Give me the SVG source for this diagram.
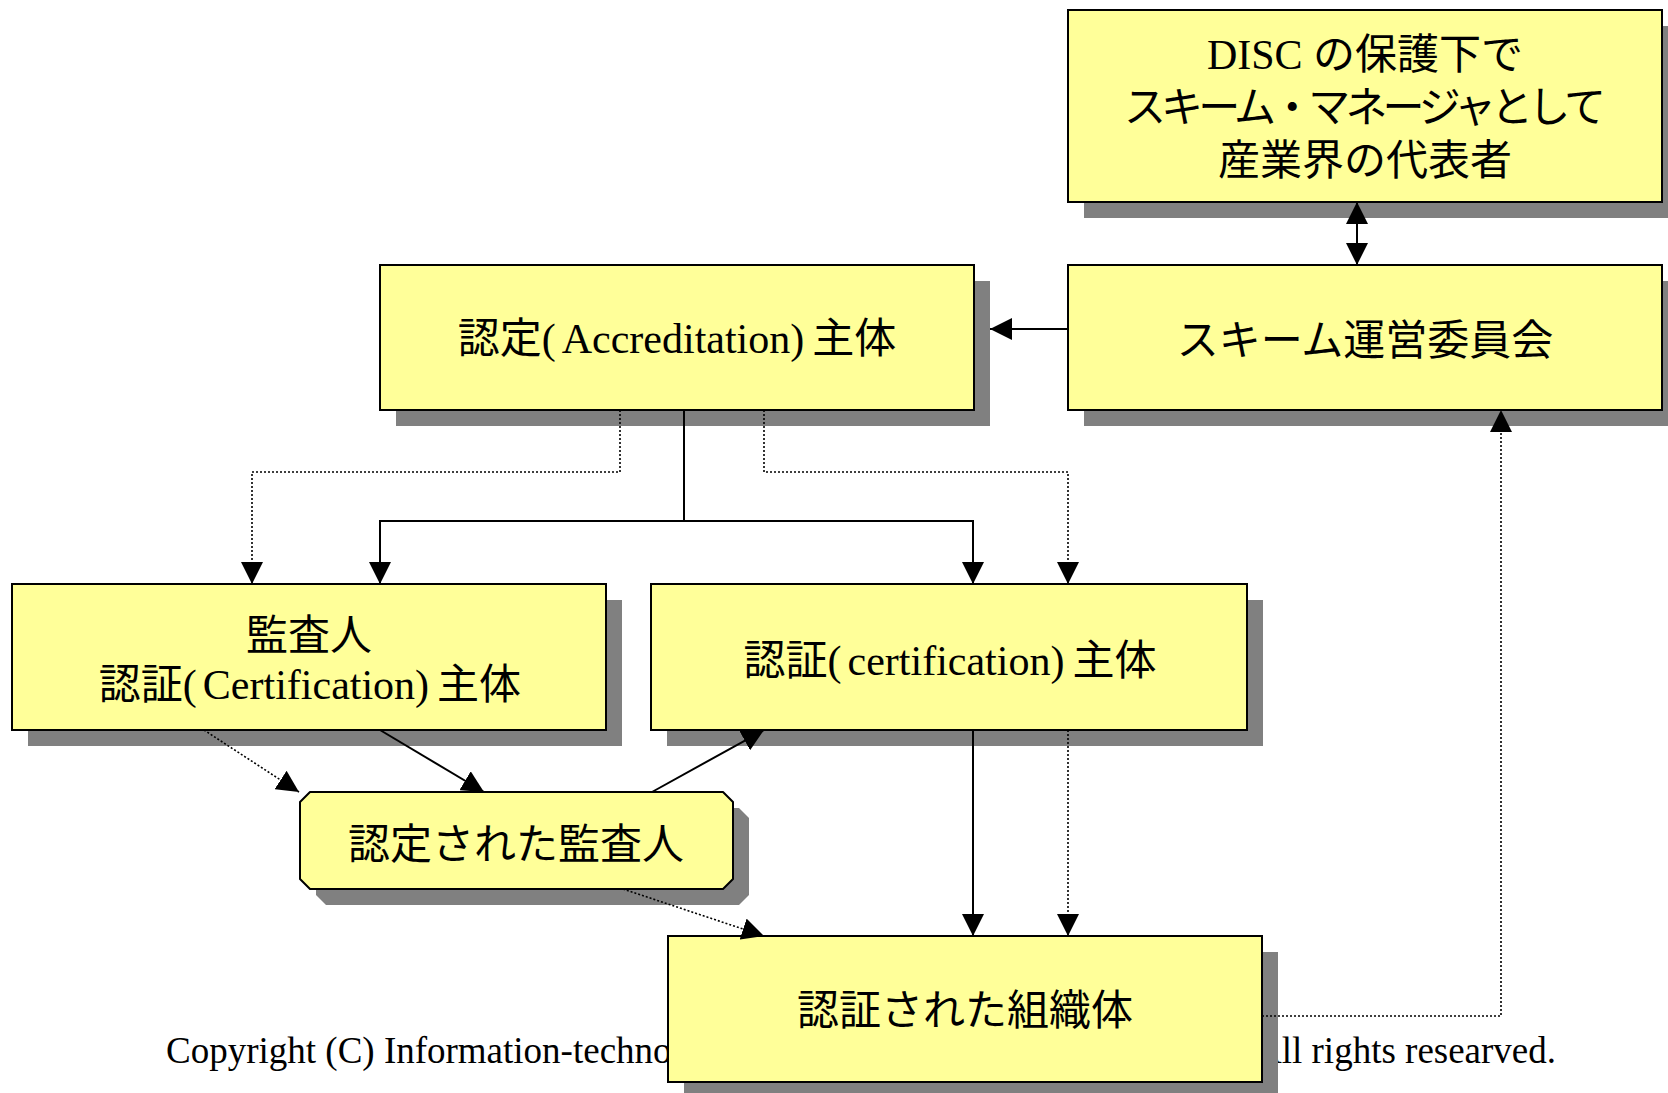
<svg xmlns="http://www.w3.org/2000/svg" width="1668" height="1093" viewBox="0 0 1668 1093">
<style>
.box{fill:#FFFF99;stroke:#000;stroke-width:2}
.shadow{fill:#808080;stroke:none}
.lbl{font-family:"Liberation Serif","Noto Sans CJK JP",serif;font-size:42px;fill:#000;text-anchor:middle}
.copy{font-family:"Liberation Serif",serif;font-size:37px;fill:#000}
.solid{fill:none;stroke:#000;stroke-width:2}
.dot{fill:none;stroke:#000;stroke-width:1.6;stroke-dasharray:2,2}
</style>
<defs>
<marker id="ah" markerUnits="userSpaceOnUse" markerWidth="22" markerHeight="22" refX="20" refY="10" orient="auto" viewBox="0 0 20 20">
<path d="M0,0 L20,10 L0,20 Z" fill="#000"/>
</marker>
<marker id="ahs" markerUnits="userSpaceOnUse" markerWidth="22" markerHeight="22" refX="20" refY="10" orient="auto-start-reverse" viewBox="0 0 20 20">
<path d="M0,0 L20,10 L0,20 Z" fill="#000"/>
</marker>
</defs>
<rect width="1668" height="1093" fill="#fff"/>

<text class="copy" x="166" y="1063">Copyright (C) Information-technology Promotion Agency, Japan. <tspan x="1255">All rights researved.</tspan></text>

<g id="disc">
<rect class="shadow" x="1084" y="26" width="594" height="192"/>
<rect class="box" x="1068" y="10" width="594" height="192"/>
<text class="lbl" x="1365" y="69">DISC の保護下で</text>
<text class="lbl" x="1365" y="122" textLength="482" lengthAdjust="spacing">スキーム・マネージャとして</text>
<text class="lbl" x="1365" y="175">産業界の代表者</text>
</g>

<g id="steering">
<rect class="shadow" x="1084" y="281" width="594" height="145"/>
<rect class="box" x="1068" y="265" width="594" height="145"/>
<text class="lbl" x="1365" y="355">スキーム運営委員会</text>
</g>

<g id="accreditation">
<rect class="shadow" x="396" y="281" width="594" height="145"/>
<rect class="box" x="380" y="265" width="594" height="145"/>
<text class="lbl" x="677" y="353">認定(<tspan dx="6">Accreditation)</tspan><tspan dx="8">主体</tspan></text>
</g>

<g id="auditor-cert">
<rect class="shadow" x="28" y="600" width="594" height="146"/>
<rect class="box" x="12" y="584" width="594" height="146"/>
<text class="lbl" x="309" y="650">監査人</text>
<text class="lbl" x="310" y="699">認証(<tspan dx="6">Certification)</tspan><tspan dx="8">主体</tspan></text>
</g>

<g id="certification">
<rect class="shadow" x="667" y="600" width="596" height="146"/>
<rect class="box" x="651" y="584" width="596" height="146"/>
<text class="lbl" x="950" y="675">認証(<tspan dx="6">certification)</tspan><tspan dx="8">主体</tspan></text>
</g>

<g id="accredited-auditor">
<path class="shadow" d="M326,808 H739 L749,818 V895 L739,905 H326 L316,895 V818 Z"/>
<path class="box" stroke-linejoin="round" d="M310,792 H723 L733,802 V879 L723,889 H310 L300,879 V802 Z"/>
<text class="lbl" x="516" y="859">認定された監査人</text>
</g>

<g id="certified-org">
<rect class="shadow" x="684" y="952" width="594" height="146"/>
<rect class="box" x="668" y="936" width="594" height="146"/>
<text class="lbl" x="965" y="1025">認証された組織体</text>
</g>

<g id="connectors">
<line class="solid" x1="1357" y1="202" x2="1357" y2="265" marker-start="url(#ahs)" marker-end="url(#ah)"/>
<line class="solid" x1="1068" y1="329" x2="990" y2="329" marker-end="url(#ah)"/>
<polyline class="solid" points="684,410 684,521"/>
<polyline class="solid" points="380,584 380,521 973,521 973,584" marker-start="url(#ahs)" marker-end="url(#ah)"/>
<polyline class="dot" points="620,410 620,472 252,472 252,584" marker-end="url(#ah)"/>
<polyline class="dot" points="764,410 764,472 1068,472 1068,584" marker-end="url(#ah)"/>
<line class="dot" x1="204" y1="730" x2="299" y2="792" marker-end="url(#ah)"/>
<line class="solid" x1="380" y1="730" x2="484" y2="792" marker-end="url(#ah)"/>
<line class="solid" x1="652" y1="792" x2="764" y2="730" marker-end="url(#ah)"/>
<line class="dot" x1="623" y1="889" x2="764" y2="936" marker-end="url(#ah)"/>
<line class="solid" x1="973" y1="730" x2="973" y2="936" marker-end="url(#ah)"/>
<line class="dot" x1="1068" y1="730" x2="1068" y2="936" marker-end="url(#ah)"/>
<polyline class="dot" points="1262,1016 1501,1016 1501,410" marker-end="url(#ah)"/>
</g>
</svg>
